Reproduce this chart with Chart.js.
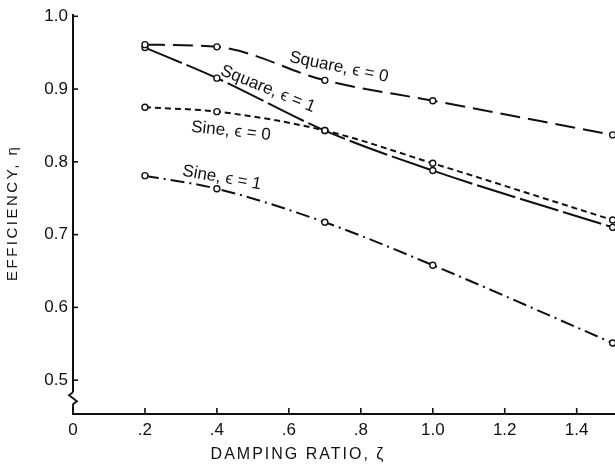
<!DOCTYPE html>
<html>
<head>
<meta charset="utf-8">
<script src="https://cdn.jsdelivr.net/npm/chart.js@4/dist/chart.umd.min.js"></script>
<style>
  html, body { margin: 0; padding: 0; background: #fff; }
  #wrap { width: 615px; height: 466px; }
</style>
</head>
<body>
<div id="wrap"><canvas id="chart"></canvas></div>
<script>
// damping ratio values where the points sit
const zeta = [0.2, 0.4, 0.7, 1.0, 1.5];

// efficiency
const squareEps0 = [0.961, 0.958, 0.912, 0.884, 0.837];
const squareEps1 = [0.957, 0.915, 0.843, 0.788, 0.710];
const sineEps0   = [0.875, 0.869, 0.843, 0.798, 0.720];
const sineEps1   = [0.781, 0.763, 0.717, 0.658, 0.551];

const xTicks = [0, 0.2, 0.4, 0.6, 0.8, 1.0, 1.2, 1.4];
const xTickLabels = ['0', '.2', '.4', '.6', '.8', '1.0', '1.2', '1.4'];
const yTicks = [0.5, 0.6, 0.7, 0.8, 0.9, 1.0];
const yTickLabels = ['0.5', '0.6', '0.7', '0.8', '0.9', '1.0'];

const seriesNames = ['Square, \u03f5 = 0', 'Square, \u03f5 = 1', 'Sine, \u03f5 = 0', 'Sine, \u03f5 = 1'];

const FONT = '"Liberation Sans", Arial, sans-serif';
const INK = '#111';

function pts(ys) {
    return zeta.map((x, i) => ({ x: x, y: ys[i] }));
}

function line(label, ys, dash) {
    return {
        label: label,
        data: pts(ys),
        borderColor: INK,
        borderWidth: 2,
        borderDash: dash,
        cubicInterpolationMode: 'monotone',
        pointRadius: 3,
        pointBorderWidth: 1.4,
        pointBackgroundColor: '#fff',
        pointBorderColor: INK,
        fill: false,
        clip: false
    };
}

// curve labels, placed in data units and rotated along the curves
const curveLabels = [
    { text: seriesNames[0], x: 0.739, y: 0.930, rot: 11.5 },
    { text: seriesNames[1], x: 0.542, y: 0.900, rot: 22 },
    { text: seriesNames[2], x: 0.439, y: 0.842, rot: 6 },
    { text: seriesNames[3], x: 0.414, y: 0.778, rot: 10 }
];

const decorations = {
    id: 'decorations',
    beforeDatasetsDraw(chart) {
        // the x axis runs on past the cropped right edge
        const c = chart.ctx, area = chart.chartArea;
        c.save();
        c.strokeStyle = INK;
        c.lineWidth = 2;
        c.beginPath();
        c.moveTo(area.right - 1, area.bottom);
        c.lineTo(chart.width, area.bottom);
        c.stroke();
        c.restore();
    },
    afterDraw(chart) {
        const c = chart.ctx;
        const xs = chart.scales.x, ys = chart.scales.y;
        const area = chart.chartArea;
        c.save();
        c.strokeStyle = INK;
        c.lineWidth = 1.6;

        // inward tick marks
        xTicks.forEach(v => {
            if (v === 0) return;
            const px = xs.getPixelForValue(v);
            c.beginPath();
            c.moveTo(px, area.bottom);
            c.lineTo(px, area.bottom - 6);
            c.stroke();
        });
        yTicks.forEach(v => {
            const py = ys.getPixelForValue(v);
            c.beginPath();
            c.moveTo(area.left, py);
            c.lineTo(area.left + 5, py);
            c.stroke();
        });

        // axis break below 0.5
        const yb = ys.getPixelForValue(0.5) + 12;
        c.fillStyle = '#fff';
        c.fillRect(area.left - 2, yb, 4, 14);
        c.lineWidth = 1.8;
        c.beginPath();
        c.moveTo(area.left, yb);
        c.lineTo(area.left - 4, yb + 3);
        c.lineTo(area.left + 4, yb + 9);
        c.lineTo(area.left, yb + 12);
        c.lineTo(area.left, yb + 14);
        c.stroke();

        // curve labels
        c.fillStyle = INK;
        c.font = '17px ' + FONT;
        c.textAlign = 'center';
        c.textBaseline = 'middle';
        curveLabels.forEach(l => {
            c.save();
            c.translate(xs.getPixelForValue(l.x), ys.getPixelForValue(l.y));
            c.rotate(l.rot * Math.PI / 180);
            c.fillText(l.text, 0, 0);
            c.restore();
        });

        // axis titles, widely spaced like the original lettering
        c.font = '16px ' + FONT;
        c.letterSpacing = '2px';
        c.fillText('DAMPING RATIO, \u03b6', area.left + 225, area.bottom + 41);
        c.font = '15px ' + FONT;
        c.letterSpacing = '2.5px';
        c.save();
        c.translate(13, ys.getPixelForValue(0.73));
        c.rotate(-Math.PI / 2);
        c.fillText('EFFICIENCY, \u03b7', 0, 0);
        c.restore();
        c.restore();
    }
};

new Chart(document.getElementById('chart'), {
    type: 'line',
    data: {
        datasets: [
            line(seriesNames[0], squareEps0, [20, 8]),
            line(seriesNames[1], squareEps1, [40, 5]),
            line(seriesNames[2], sineEps0, [6, 4]),
            line(seriesNames[3], sineEps1, [14, 5, 2, 5])
        ]
    },
    options: {
        responsive: true,
        maintainAspectRatio: false,
        animation: false,
        layout: { padding: { top: 9, right: 0, left: 0, bottom: 0 } },
        plugins: {
            legend: { display: false },
            tooltip: { enabled: false }
        },
        scales: {
            x: {
                type: 'linear',
                min: 0,
                max: 1.4915,
                afterBuildTicks: axis => { axis.ticks = xTicks.map(v => ({ value: v })); },
                afterFit: axis => { axis.height = 52; },
                grid: { display: false, drawTicks: false },
                border: { color: INK, width: 2 },
                ticks: {
                    color: INK,
                    padding: 6,
                    maxRotation: 0,
                    autoSkip: false,
                    font: { family: FONT, size: 17 },
                    callback: v => xTickLabels[xTicks.indexOf(v)]
                }
            },
            y: {
                min: 0.4535,
                max: 1.0015,
                afterBuildTicks: axis => { axis.ticks = yTicks.map(v => ({ value: v })); },
                afterFit: axis => { axis.width = 73; },
                grid: { display: false, drawTicks: false },
                border: { color: INK, width: 2 },
                ticks: {
                    color: INK,
                    padding: 5,
                    autoSkip: false,
                    font: { family: FONT, size: 17 },
                    callback: v => yTickLabels[yTicks.indexOf(v)]
                }
            }
        }
    },
    plugins: [decorations]
});
</script>
</body>
</html>
